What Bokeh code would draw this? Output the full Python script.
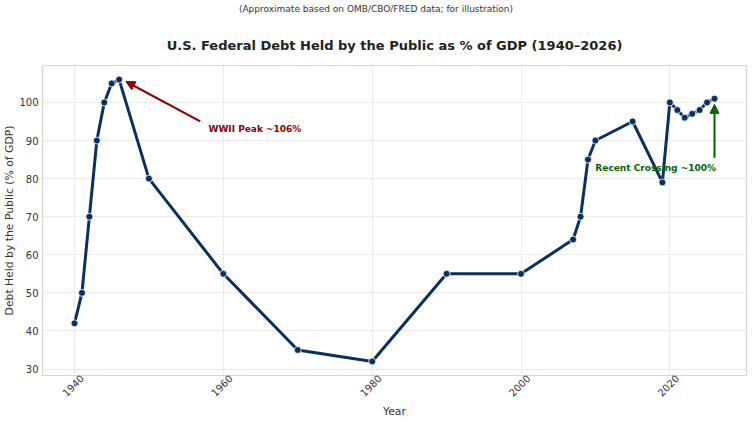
import math
from bokeh.plotting import figure
from bokeh.layouts import column
from bokeh.models import (Range1d, FixedTicker, Arrow, NormalHead, Label,
                          ColumnDataSource, LinearAxis, Div)
from bokeh.embed import file_html
from bokeh.resources import INLINE

# ---- data ----
years = [1940, 1941, 1942, 1943, 1944, 1945, 1946, 1950, 1960, 1970, 1980, 1990, 2000,
         2007, 2008, 2009, 2010, 2015, 2019, 2020, 2021, 2022, 2023, 2024, 2025, 2026]
debt_pct = [42, 50, 70, 90, 100, 105, 106, 80, 55, 35, 32, 55, 55,
            64, 70, 85, 90, 95, 79, 100, 98, 96, 97, 98, 100, 101]
x_ticks = [1940, 1960, 1980, 2000, 2020]
y_ticks = [30, 40, 50, 60, 70, 80, 90, 100]

title_text = "U.S. Federal Debt Held by the Public as % of GDP (1940\u20132026)"
subtitle_text = "(Approximate based on OMB/CBO/FRED data; for illustration)"
peak_label = "WWII Peak ~106%"
recent_label = "Recent Crossing ~100%"

FONT = "DejaVu Sans"
LINE_COLOR = "#0b2f5f"
TEXT_COLOR = "#333333"

src = ColumnDataSource(dict(x=years, y=debt_pct))

xmin, xmax = min(years), max(years)
ymin, ymax = min(debt_pct), max(debt_pct)
xpad = (xmax - xmin) * 0.05
ypad = (ymax - ymin) * 0.05
x0, x1 = xmin - xpad, xmax + xpad

DIV_H = 22
sub = Div(text=subtitle_text, width=752, height=DIV_H, margin=(0, 0, 0, 0),
          styles={"font-family": FONT, "font-size": "9px", "color": TEXT_COLOR,
                  "text-align": "center", "width": "752px", "line-height": "18px",
                  "background-color": "white"})

p = figure(width=752, height=422 - DIV_H, output_backend="svg", toolbar_location=None,
           x_range=Range1d(x0, x1),
           y_range=Range1d(ymin - ypad, ymax + ypad),
           min_border_left=2, min_border_right=6, min_border_top=0, min_border_bottom=47,
           background_fill_color="white", border_fill_color="white", margin=(0, 0, 0, 0))

p.title.text = title_text
p.title.text_font = FONT
p.title.text_font_size = "13px"
p.title.text_font_style = "bold"
p.title.text_color = "#222222"
p.title.align = "center"
p.title.standoff = 26

p.outline_line_color = "#d5d5d5"
p.outline_line_width = 1.2

# shifted range so rotated tick labels are centred on their ticks
label_shift = 1.0
p.extra_x_ranges = {"xlab": Range1d(x0 - label_shift, x1 - label_shift)}
p.xaxis.visible = False
xax = LinearAxis(x_range_name="xlab")
p.add_layout(xax, "below")

for ax in (xax, p.yaxis[0]):
    ax.axis_line_color = None
    ax.major_tick_line_color = None
    ax.minor_tick_line_color = None
    ax.major_tick_out = 0
    ax.major_tick_in = 0
    ax.minor_tick_out = 0
    ax.minor_tick_in = 0
    ax.major_label_text_font = FONT
    ax.major_label_text_font_size = "10px"
    ax.major_label_text_color = TEXT_COLOR
    ax.axis_label_text_font = FONT
    ax.axis_label_text_font_size = "10.8px"
    ax.axis_label_text_font_style = "normal"
    ax.axis_label_text_color = TEXT_COLOR

xax.ticker = FixedTicker(ticks=x_ticks)
xax.major_label_orientation = math.pi / 4
xax.axis_label = "Year"
xax.major_label_standoff = 1
xax.axis_label_standoff = 2

p.yaxis.ticker = FixedTicker(ticks=y_ticks)
p.yaxis.axis_label = "Debt Held by the Public (% of GDP)"
p.yaxis.major_label_standoff = 4
p.yaxis.axis_label_standoff = 0

p.xgrid.ticker = FixedTicker(ticks=x_ticks)
p.ygrid.ticker = FixedTicker(ticks=y_ticks)
p.grid.grid_line_color = "#ebebeb"
p.grid.grid_line_width = 1

p.line("x", "y", source=src, line_color=LINE_COLOR, line_width=3)
p.scatter("x", "y", source=src, size=7, fill_color=LINE_COLOR, line_color="white", line_width=0.8)

# annotations
peak_i = debt_pct.index(max(debt_pct))
peak_x, peak_y = years[peak_i], debt_pct[peak_i]
p.add_layout(Arrow(end=NormalHead(size=9, fill_color="#8b0000", line_color="#8b0000"),
                   x_start=peak_x + 10.9, y_start=peak_y - 11, x_end=peak_x + 0.9, y_end=peak_y - 0.5,
                   line_color="#8b0000", line_width=2))
p.add_layout(Label(x=peak_x + 12, y=peak_y - 12.9, text=peak_label, text_font=FONT,
                   text_font_size="9px", text_font_style="bold", text_color="#8b0000",
                   text_align="left", text_baseline="middle"))

last_x, last_y = years[-1], debt_pct[-1]
p.add_layout(Arrow(end=NormalHead(size=9, fill_color="#006400", line_color="#006400"),
                   x_start=last_x, y_start=last_y - 15.5, x_end=last_x, y_end=last_y - 1.5,
                   line_color="#006400", line_width=2))
p.add_layout(Label(x=last_x - 7.9, y=last_y - 18.1, text=recent_label, text_font=FONT,
                   text_font_size="9px", text_font_style="bold", text_color="#006400",
                   text_align="center", text_baseline="middle"))

layout = column(sub, p, spacing=0, margin=(0, 0, 0, 0))
open("out.html", "w").write(file_html(layout, INLINE))
